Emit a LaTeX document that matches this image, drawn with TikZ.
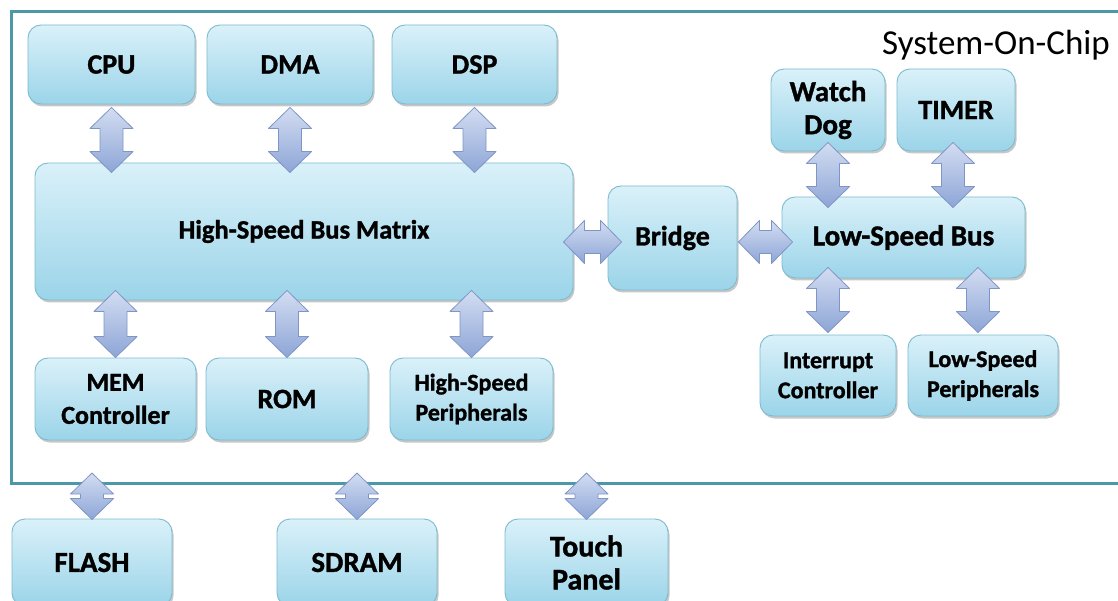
\documentclass[tikz,border=0pt]{standalone}
\usepackage{fontspec}
\setmainfont{Carlito}[BoldFeatures={FakeBold=1.2}]
\usetikzlibrary{calc,shadows}
\definecolor{boxtop}{HTML}{DAF1F9}
\definecolor{boxbot}{HTML}{9BD4E9}
\definecolor{boxline}{HTML}{7DBBD0}
\definecolor{frameline}{HTML}{4A98A8}
\definecolor{arrtop}{HTML}{D3DDF2}
\definecolor{arrbot}{HTML}{8DA5D6}
\definecolor{arrline}{HTML}{7F95C6}
\def\ahl{21pt}
\def\ahw{21.5pt}
\def\asw{11.5pt}
\newcommand\bidir[2]{%
  \coordinate (bdA) at #1;
  \coordinate (bdB) at #2;
  \draw[biarrow] (bdA)
    -- ($(bdA)!\ahl!(bdB)!\ahw!90:(bdB)$)
    -- ($(bdA)!\ahl!(bdB)!\asw!90:(bdB)$)
    -- ($(bdB)!\ahl!(bdA)!\asw!-90:(bdA)$)
    -- ($(bdB)!\ahl!(bdA)!\ahw!-90:(bdA)$)
    -- (bdB)
    -- ($(bdB)!\ahl!(bdA)!\ahw!90:(bdA)$)
    -- ($(bdB)!\ahl!(bdA)!\asw!90:(bdA)$)
    -- ($(bdA)!\ahl!(bdB)!\asw!-90:(bdB)$)
    -- ($(bdA)!\ahl!(bdB)!\ahw!-90:(bdB)$)
    -- cycle;}
\tikzset{
  box/.style={rounded corners=13pt, draw=boxline, line width=0.9pt,
    top color=boxtop, bottom color=boxbot, inner sep=0pt, align=center,
    drop shadow={shadow xshift=1.5pt, shadow yshift=-2.5pt, opacity=0.22, fill=black},
    font=\bfseries\fontsize{28}{33}\selectfont},
  fs/.style={font=\bfseries\fontsize{#1}{33}\selectfont},
  smalltxt/.style={font=\bfseries\fontsize{24}{30}\selectfont},
  biarrow/.style={draw=arrline, line width=0.8pt, top color=arrtop, bottom color=arrbot, line join=round},
  frame/.style={draw=frameline, line width=3pt, fill=white}
}
\begin{document}
\begin{tikzpicture}[x=1pt,y=-1pt]
\useasboundingbox (0,0) rectangle (1118,601);
\clip (0,0) rectangle (1118,601);
\fill[white] (0,0) rectangle (1118,601);
% System-on-chip frame
\draw[frame] (11,12) rectangle (1140,483);
\coordinate (socSW) at (11,483);
\node[anchor=base west, font=\fontsize{35}{40}\selectfont, inner sep=0pt] (soc) at (882,55) {System-On-Chip};
% boxes
\node[box, minimum width=167pt, minimum height=79pt] (cpu) at (111.5,64.5) {CPU};
\node[box, minimum width=166pt, minimum height=79pt] (dma) at (290,64.5) {DMA};
\node[box, minimum width=165pt, minimum height=79pt] (dsp) at (474.5,64.5) {DSP};
\node[box, fs=26.5, minimum width=538pt, minimum height=137pt] (hsbm) at (304,231.5) {High-Speed Bus Matrix};
\node[box, minimum width=129pt, minimum height=104pt] (bridge) at (672.5,238) {Bridge};
\node[box, fs=29, minimum width=243pt, minimum height=81pt] (lsb) at (903.5,237.5) {Low-Speed Bus};
\node[box, fs=29, minimum width=114pt, minimum height=82pt] (wd) at (828,110) {Watch\\Dog};
\node[box, minimum width=118pt, minimum height=82pt] (timer) at (956,110) {TIMER};
\node[box, fs=26, minimum width=161pt, minimum height=82pt] (mem) at (115.5,399) {MEM\\Controller};
\node[box, minimum width=162pt, minimum height=82pt] (rom) at (287,399) {ROM};
\node[box, smalltxt, minimum width=163pt, minimum height=82pt] (hsp) at (471.5,399) {High-Speed\\Peripherals};
\node[box, smalltxt, minimum width=136pt, minimum height=81pt] (ic) at (828,375.5) {Interrupt\\Controller};
\node[box, smalltxt, minimum width=150pt, minimum height=81pt] (lsp) at (983,375.5) {Low-Speed\\Peripherals};
\node[box, fs=29, minimum width=160pt, minimum height=87pt] (flash) at (92,562.5) {FLASH};
\node[box, fs=29, minimum width=160pt, minimum height=87pt] (sdram) at (357,562.5) {SDRAM};
\node[box, fs=30, minimum width=163pt, minimum height=87pt] (touch) at (586.5,562.5) {Touch\\Panel};
% connectors
\bidir{($(cpu.south)+(0,3)$)}{($(cpu.south |- hsbm.north)+(0,10)$)}
\bidir{($(dma.south)+(0,3)$)}{($(dma.south |- hsbm.north)+(0,10)$)}
\bidir{($(dsp.south)+(0,3)$)}{($(dsp.south |- hsbm.north)+(0,10)$)}
\bidir{($(mem.north |- hsbm.south)+(0,-10)$)}{(mem.north)}
\bidir{($(rom.north |- hsbm.south)+(0,-10)$)}{(rom.north)}
\bidir{($(hsp.north |- hsbm.south)+(0,-10)$)}{(hsp.north)}
\bidir{($(hsbm.east |- bridge.center)+(-10,4)$)}{($(bridge.west)+(14,4)$)}
\bidir{($(bridge.east)+(1,4)$)}{($(lsb.west |- bridge.center)+(11,4)$)}
\bidir{($(wd.south)+(0,-9)$)}{($(wd.south |- lsb.north)+(0,11)$)}
\bidir{($(timer.south)+(-3,-9)$)}{($(timer.south |- lsb.north)+(-3,11)$)}
\bidir{($(ic.north |- lsb.south)+(0,-11)$)}{($(ic.north)+(0,-2)$)}
\bidir{($(lsp.north |- lsb.south)+(-5,-11)$)}{($(lsp.north)+(-5,-2)$)}
\bidir{($(flash.north |- socSW)+(0,-10)$)}{($(flash.north)+(0,1)$)}
\bidir{($(sdram.north |- socSW)+(0,-10)$)}{($(sdram.north)+(0,1)$)}
\bidir{($(touch.north |- socSW)+(0,-10)$)}{($(touch.north)+(0,1)$)}
\end{tikzpicture}
\end{document}
